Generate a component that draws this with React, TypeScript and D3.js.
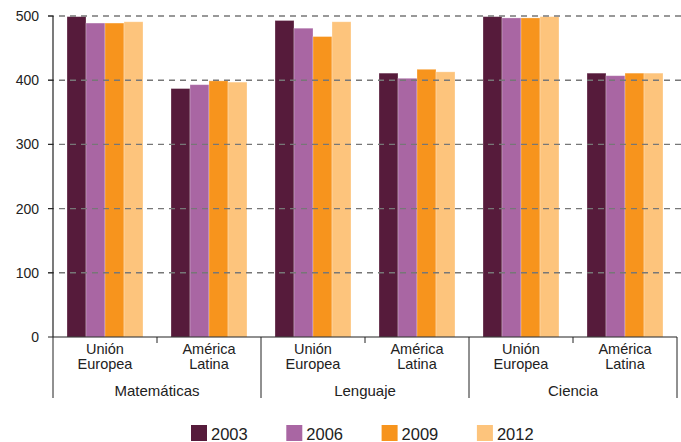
import React from "react";
import * as d3 from "d3";

const subjects = ["Matemáticas", "Lenguaje", "Ciencia"];
const regions = [["Unión", "Europea"], ["América", "Latina"]];
const years = ["2003", "2006", "2009", "2012"];
const colors = ["#561B3B", "#A966A3", "#F7941D", "#FDC47C"];
const yTicks = [0, 100, 200, 300, 400, 500];

// values per category (subject x region), per year
const v2003 = [499, 387, 493, 411, 499, 411];
const v2006 = [489, 393, 481, 403, 497, 407];
const v2009 = [489, 399, 468, 417, 497, 411];
const v2012 = [491, 397, 491, 413, 499, 411];
const series = [v2003, v2006, v2009, v2012];

const W = 681;
const H = 442;
const left = 53;
const right = 677;
const top = 16;
const bottom = 337;

export default function App() {
  const cats = d3.range(6).map(String);
  const x = d3.scaleBand<string>().domain(cats).range([left, right]).paddingInner(0).paddingOuter(0);
  const bw = x.bandwidth();
  const inner = d3.scaleBand<string>().domain(years).range([14, bw - 14]).padding(0);
  const y = d3.scaleLinear().domain([0, 500]).range([bottom, top]);
  const font = "'Liberation Sans', Arial, sans-serif";

  return (
    <svg width={W} height={H} style={{ position: "absolute", left: 0, top: 0 }} fontFamily={font}>
      <rect width={W} height={H} fill="#fff" />
      {/* bars */}
      {series.map((s, si) =>
        s.map((val, ci) => (
          <rect
            key={`${si}-${ci}`}
            x={(x(String(ci)) as number) + (inner(years[si]) as number)}
            y={y(val)}
            width={inner.bandwidth()}
            height={bottom - y(val)}
            fill={colors[si]}
            stroke="#fff"
            strokeOpacity={0.35}
            strokeWidth={0.8}
          />
        ))
      )}
      {/* gridlines */}
      {yTicks.filter((t) => t > 0).map((t) => (
        <line key={t} x1={48} x2={W} y1={y(t)} y2={y(t)} stroke="#777" strokeWidth={1.4} strokeDasharray="6,5" />
      ))}
      {/* y ticks & labels */}
      {yTicks.map((t) => (
        <g key={"yt" + t}>
          <line x1={48} x2={left} y1={y(t)} y2={y(t)} stroke="#222" strokeWidth={1} />
          <text x={39} y={y(t)} dy="0.36em" textAnchor="end" fontSize={14} fill="#222">
            {t}
          </text>
        </g>
      ))}
      {/* y axis */}
      <line x1={left} x2={left} y1={top} y2={bottom} stroke="#222" strokeWidth={1.2} />
      {/* x axis */}
      <line x1={left} x2={right} y1={bottom} y2={bottom} stroke="#222" strokeWidth={1.2} />
      {/* minor ticks */}
      {subjects.map((_, gi) => {
        const xm = x(String(gi * 2 + 1)) as number;
        return <line key={"mt" + gi} x1={xm} x2={xm} y1={bottom} y2={343} stroke="#222" strokeWidth={1} />;
      })}
      {/* group separators */}
      {d3.range(4).map((i) => {
        const xs = i < 3 ? (x(String(i * 2)) as number) : right;
        return <line key={"sep" + i} x1={xs} x2={xs} y1={bottom} y2={398} stroke="#222" strokeWidth={1} />;
      })}
      {/* category labels */}
      {cats.map((c, ci) => {
        const cx = (x(c) as number) + bw / 2;
        const lbl = regions[ci % 2];
        return (
          <g key={"cl" + c}>
            <text x={cx} y={353.5} textAnchor="middle" fontSize={14.5} fill="#222">
              {lbl[0]}
            </text>
            <text x={cx} y={368.5} textAnchor="middle" fontSize={14.5} fill="#222">
              {lbl[1]}
            </text>
          </g>
        );
      })}
      {/* subject labels */}
      {subjects.map((s, gi) => {
        const cx = (x(String(gi * 2)) as number) + bw;
        return (
          <text key={"sl" + s} x={cx} y={396} textAnchor="middle" fontSize={15} fill="#222">
            {s}
          </text>
        );
      })}
      {/* legend */}
      {years.map((yr, i) => {
        const lx = 191 + i * 95.3;
        return (
          <g key={"lg" + yr}>
            <rect x={lx} y={425} width={16} height={16} fill={colors[i]} />
            <text x={lx + 20} y={440} fontSize={16.5} fill="#222">
              {yr}
            </text>
          </g>
        );
      })}
    </svg>
  );
}
